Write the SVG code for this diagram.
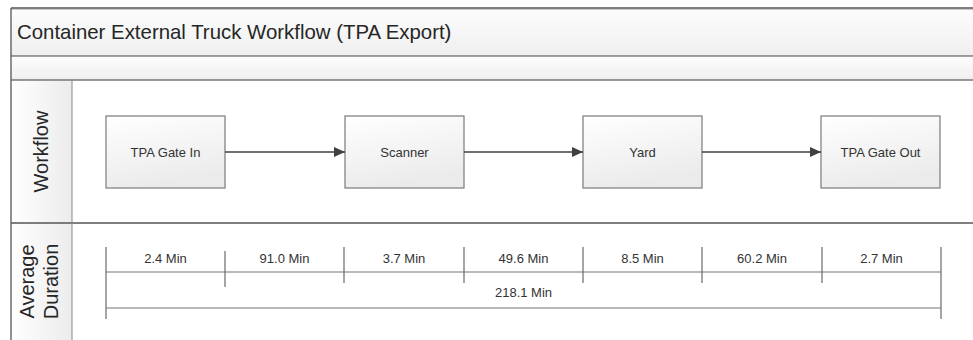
<svg xmlns="http://www.w3.org/2000/svg" width="973" height="340" viewBox="0 0 973 340">
<defs>
  <linearGradient id="band" x1="0" y1="0" x2="0" y2="1">
    <stop offset="0" stop-color="#fdfdfd"/>
    <stop offset="1" stop-color="#efefef"/>
  </linearGradient>
  <linearGradient id="hdr" x1="0" y1="0" x2="1" y2="0">
    <stop offset="0" stop-color="#ffffff"/>
    <stop offset="1" stop-color="#ececec"/>
  </linearGradient>
  <linearGradient id="box" x1="0" y1="0" x2="0.3" y2="1">
    <stop offset="0" stop-color="#ffffff"/>
    <stop offset="1" stop-color="#ebebeb"/>
  </linearGradient>
  <marker id="arr" markerWidth="11" markerHeight="10" refX="11" refY="5" orient="auto" markerUnits="userSpaceOnUse">
    <path d="M0,0 L11,5 L0,10 Z" fill="#404040"/>
  </marker>
  <style>
    text { font-family: "Liberation Sans", Arial, sans-serif; fill: #262626; }
    .title { font-size: 20.4px; }
    .lane { font-size: 20px; text-anchor: middle; }
    .lbl { font-size: 13px; text-anchor: middle; fill: #333; }
    .node rect { fill: url(#box); stroke: #7a7a7a; stroke-width: 1.2; }
    .conn line { stroke: #404040; stroke-width: 1.5; }
    .tick { stroke: #6a6a6a; stroke-width: 1.2; }
    .dim { stroke: #777; stroke-width: 1.2; }
  </style>
</defs>
<rect width="973" height="340" fill="#ffffff"/>
<g id="frame">
  <rect x="11" y="8" width="970" height="48" fill="url(#band)"/>
  <rect x="11" y="56" width="970" height="24" fill="url(#band)"/>
  <rect x="11" y="80" width="61" height="270" fill="url(#hdr)"/>
  <line x1="11" y1="8" x2="981" y2="8" stroke="#555" stroke-width="1.5"/>
  <line x1="11" y1="9.5" x2="981" y2="9.5" stroke="#c8c8c8" stroke-width="1"/>
  <line x1="11" y1="56" x2="981" y2="56" stroke="#444" stroke-width="1.2"/>
  <line x1="11" y1="80" x2="981" y2="80" stroke="#777" stroke-width="1.6"/>
  <line x1="11" y1="223" x2="981" y2="223" stroke="#555" stroke-width="1.3"/>
  <line x1="11" y1="8" x2="11" y2="345" stroke="#555" stroke-width="1.3"/>
  <line x1="72" y1="80" x2="72" y2="345" stroke="#888" stroke-width="1"/>
  <text class="title" x="17" y="39">Container External Truck Workflow (TPA Export)</text>
  <text class="lane" transform="translate(48,151.5) rotate(-90)">Workflow</text>
  <text class="lane" transform="translate(34,281.5) rotate(-90)">Average</text>
  <text class="lane" transform="translate(58,281.5) rotate(-90)">Duration</text>
</g>
<g id="n-gatein" class="node">
  <rect x="106" y="116" width="119" height="72"/>
  <text class="lbl" x="165.5" y="157">TPA Gate In</text>
</g>
<g id="n-scanner" class="node">
  <rect x="345" y="116" width="119" height="72"/>
  <text class="lbl" x="404.5" y="157">Scanner</text>
</g>
<g id="n-yard" class="node">
  <rect x="583" y="116" width="119" height="72"/>
  <text class="lbl" x="642.5" y="157">Yard</text>
</g>
<g id="n-gateout" class="node">
  <rect x="821" y="116" width="119" height="72"/>
  <text class="lbl" x="880.5" y="157">TPA Gate Out</text>
</g>
<g id="connectors" class="conn">
  <line x1="225" y1="152" x2="345" y2="152" marker-end="url(#arr)"/>
  <line x1="464" y1="152" x2="583" y2="152" marker-end="url(#arr)"/>
  <line x1="702" y1="152" x2="821" y2="152" marker-end="url(#arr)"/>
</g>
<g id="durations">
  <line class="dim" x1="106" y1="272" x2="941" y2="272"/>
  <line class="dim" x1="106" y1="308" x2="941" y2="308"/>
  <line class="tick" x1="106" y1="247" x2="106" y2="319"/>
  <line class="tick" x1="225" y1="251" x2="225" y2="287"/>
  <line class="tick" x1="344" y1="247" x2="344" y2="283"/>
  <line class="tick" x1="464" y1="247" x2="464" y2="283"/>
  <line class="tick" x1="583" y1="247" x2="583" y2="283"/>
  <line class="tick" x1="702" y1="247" x2="702" y2="283"/>
  <line class="tick" x1="822" y1="247" x2="822" y2="283"/>
  <line class="tick" x1="941" y1="247" x2="941" y2="319"/>
  <text class="lbl" x="165.5" y="263">2.4 Min</text>
  <text class="lbl" x="284.5" y="263">91.0 Min</text>
  <text class="lbl" x="404" y="263">3.7 Min</text>
  <text class="lbl" x="523.5" y="263">49.6 Min</text>
  <text class="lbl" x="642.5" y="263">8.5 Min</text>
  <text class="lbl" x="762" y="263">60.2 Min</text>
  <text class="lbl" x="881.5" y="263">2.7 Min</text>
  <text class="lbl" x="523.5" y="297">218.1 Min</text>
</g>
</svg>
